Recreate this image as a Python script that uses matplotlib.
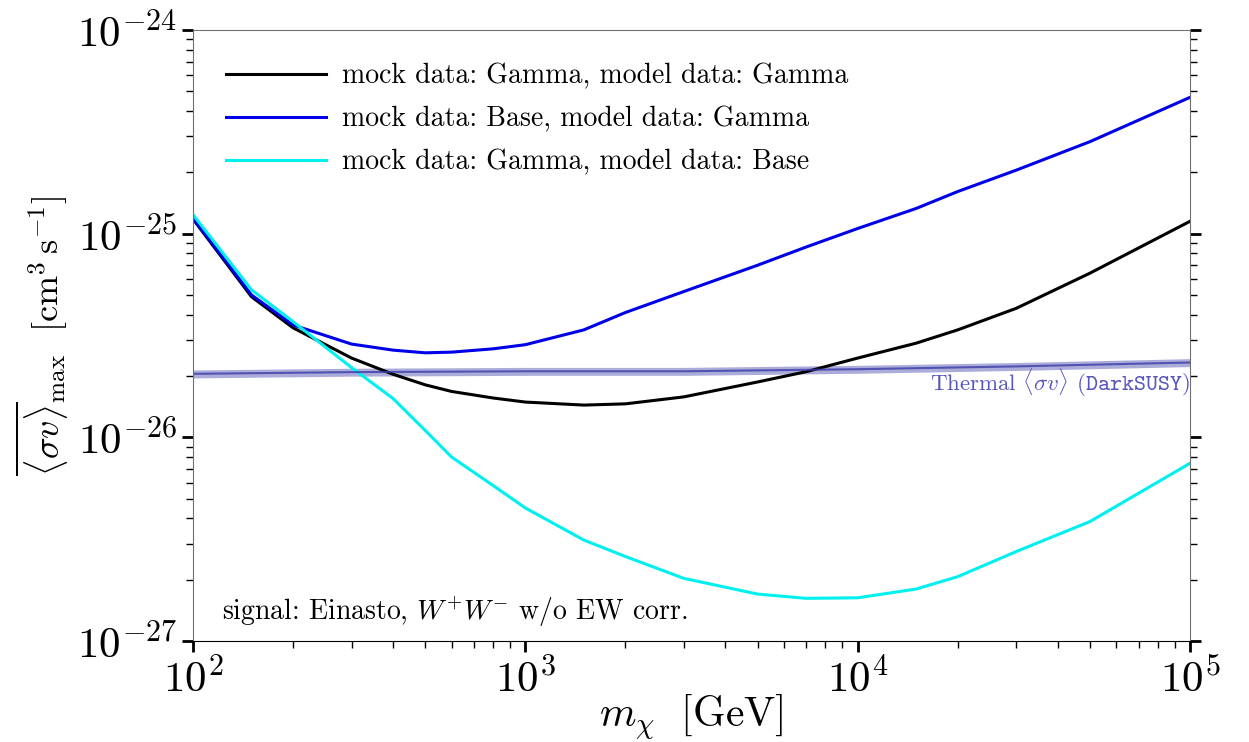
import numpy as np
import matplotlib.pyplot as plt

plt.rcParams['font.family'] = 'serif'
plt.rcParams['font.serif'] = ['cmr10']
plt.rcParams['mathtext.fontset'] = 'cm'
plt.rcParams['axes.formatter.use_mathtext'] = True

# masses (GeV)
m_dm = [100, 150, 200, 300, 400, 500, 600, 800, 1000, 1500, 2000, 3000,
        5000, 7000, 10000, 15000, 20000, 30000, 50000, 100000]

# upper limits on <sigma v> (cm^3 s^-1)
sv_gamma_gamma = [1.18e-25, 4.9e-26, 3.45e-26, 2.45e-26, 2.04e-26, 1.81e-26,
                  1.68e-26, 1.56e-26, 1.49e-26, 1.44e-26, 1.46e-26, 1.58e-26,
                  1.87e-26, 2.1e-26, 2.45e-26, 2.9e-26, 3.37e-26, 4.3e-26,
                  6.4e-26, 1.15e-25]
sv_base_gamma = [1.19e-25, 5.0e-26, 3.56e-26, 2.87e-26, 2.68e-26, 2.60e-26,
                 2.62e-26, 2.72e-26, 2.85e-26, 3.37e-26, 4.1e-26, 5.2e-26,
                 7.0e-26, 8.6e-26, 1.06e-25, 1.33e-25, 1.61e-25, 2.05e-25,
                 2.83e-25, 4.67e-25]
sv_gamma_base = [1.24e-25, 5.3e-26, 3.7e-26, 2.2e-26, 1.55e-26, 1.08e-26,
                 8.0e-27, 5.8e-27, 4.5e-27, 3.13e-27, 2.6e-27, 2.03e-27,
                 1.70e-27, 1.62e-27, 1.63e-27, 1.80e-27, 2.07e-27, 2.75e-27,
                 3.86e-27, 7.46e-27]

# thermal relic cross section
m_th = [100, 300, 1000, 3000, 10000, 30000, 100000]
sv_th = [2.05e-26, 2.09e-26, 2.11e-26, 2.11e-26, 2.16e-26, 2.23e-26, 2.33e-26]

fig = plt.figure(figsize=(12.49, 7.42), dpi=100)
ax = fig.add_axes([0.1545, 0.1361, 0.7983, 0.8235])

ax.plot(m_dm, sv_gamma_gamma, color='black', lw=2.2,
        label='mock data: Gamma, model data: Gamma')
ax.plot(m_dm, sv_base_gamma, color='#0000e8', lw=2.2,
        label='mock data: Base, model data: Gamma')
ax.plot(m_dm, sv_gamma_base, color='#00f0f0', lw=2.2,
        label='mock data: Gamma, model data: Base')

sv_th = np.array(sv_th)
ax.fill_between(m_th, sv_th * 0.955, sv_th * 1.045, color='#4848b0', alpha=0.45, lw=0)
ax.plot(m_th, sv_th, color='#3c3ca8', lw=1.5, alpha=0.8)
ax.text(1e5, 1.85e-26, r'Thermal $\langle\sigma v\rangle$ $\mathtt{(DarkSUSY)}$',
        color='#5656bc', fontsize=16.5, ha='right', va='center')

ax.text(0.029, 0.02, r'signal: Einasto, $W^{+}W^{-}$ w/o EW corr.',
        transform=ax.transAxes, fontsize=20, ha='left', va='bottom')

ax.set_xscale('log')
ax.set_yscale('log')
ax.set_xlim(1e2, 1e5)
ax.set_ylim(1e-27, 1e-24)

for side in ['left', 'right', 'top']:
    ax.spines[side].set_color('#707070')
ax.spines['bottom'].set_color('black')

ax.tick_params(which='both', direction='out', top=False, right=True, labelsize=31)
ax.tick_params(which='major', length=8, width=2)
ax.tick_params(which='minor', length=5, width=1)
ax.tick_params(axis='x', pad=4)

ax.set_xlabel(r'$m_\chi\ \ [\mathrm{GeV}]$', fontsize=30, labelpad=-6)
ax.set_ylabel(r'$\overline{\langle\sigma v\rangle}_{\mathrm{max}}\ \ [\mathrm{cm}^3\,\mathrm{s}^{-1}]$',
              fontsize=26, labelpad=4)

ax.legend(loc='upper left', frameon=False, fontsize=20, handlelength=3.6,
          handletextpad=0.55, borderaxespad=0.8, labelspacing=0.6)

fig.savefig('out.png', dpi=100)
